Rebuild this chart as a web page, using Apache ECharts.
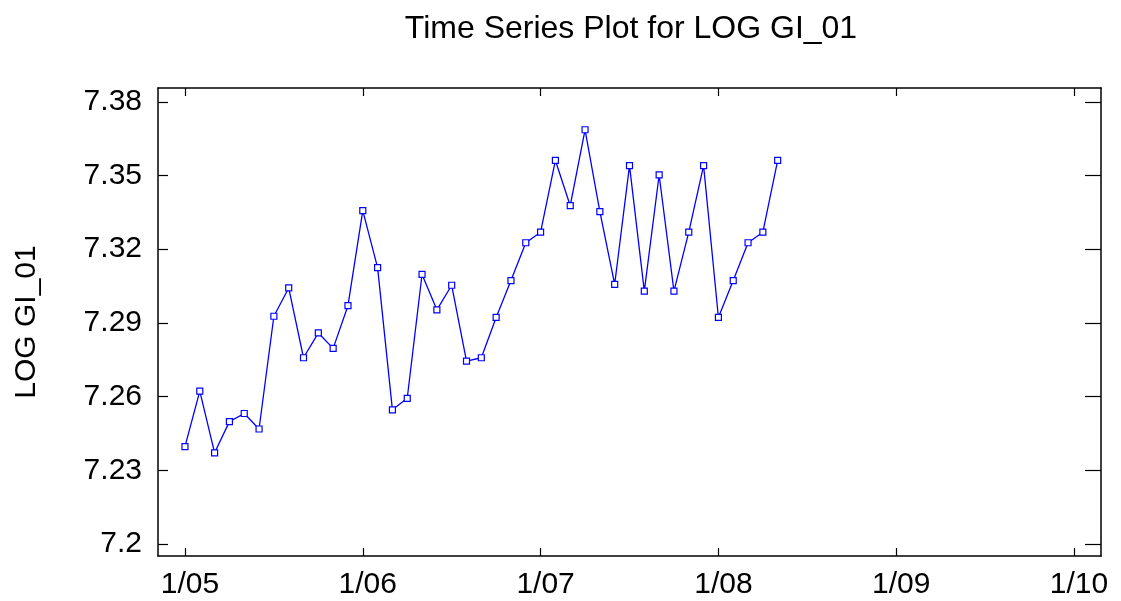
<!DOCTYPE html>
<html>
<head>
<meta charset="utf-8">
<script src="https://cdn.jsdelivr.net/npm/echarts@6/dist/echarts.min.js"></script>
<style>
html,body{margin:0;padding:0;background:#fff;}
#chart{width:1121px;height:601px;}
</style>
</head>
<body>
<div id="chart"></div>
<script>
const titleText = 'Time Series Plot for LOG GI_01';
const yAxisName = 'LOG GI_01';

const months = [
  '2005-01','2005-02','2005-03','2005-04','2005-05','2005-06','2005-07','2005-08','2005-09','2005-10','2005-11','2005-12',
  '2006-01','2006-02','2006-03','2006-04','2006-05','2006-06','2006-07','2006-08','2006-09','2006-10','2006-11','2006-12',
  '2007-01','2007-02','2007-03','2007-04','2007-05','2007-06','2007-07','2007-08','2007-09','2007-10','2007-11','2007-12',
  '2008-01','2008-02','2008-03','2008-04','2008-05'
];
const values = [
  7.2396, 7.2622, 7.2371, 7.2498, 7.2531, 7.2468, 7.2927, 7.3042, 7.2758, 7.2859, 7.2796, 7.2970,
  7.3357, 7.3125, 7.2546, 7.2593, 7.3097, 7.2953, 7.3053, 7.2744, 7.2758, 7.2922, 7.3072, 7.3226,
  7.3269, 7.3561, 7.3377, 7.3686, 7.3353, 7.3057, 7.3540, 7.3029, 7.3502, 7.3029, 7.3269, 7.3540,
  7.2922, 7.3072, 7.3226, 7.3269, 7.3561
];
const xTickMonths = [0, 12, 24, 36, 48, 60];
const xTickLabels = ['1/05', '1/06', '1/07', '1/08', '1/09', '1/10'];
const yTicks = [7.2, 7.23, 7.26, 7.29, 7.32, 7.35, 7.38];
const yTickLabels = ['7.2', '7.23', '7.26', '7.29', '7.32', '7.35', '7.38'];

function monthIndex(s) {
  const [y, m] = s.split('-').map(Number);
  return (y - 2005) * 12 + (m - 1);
}
const seriesData = months.map((m, i) => [monthIndex(m), values[i]]);

const chart = echarts.init(document.getElementById('chart'));
const lineStyle = { color: '#000', width: 1.5 };
const FONT = 'Liberation Sans';

const xBase = {
  type: 'value', min: -1.82, max: 61.82,
  splitLine: { show: false },
  axisLine: { show: true, onZero: false, lineStyle },
  axisTick: { show: true, inside: true, length: 8, customValues: xTickMonths, lineStyle: { color: '#000', width: 1.2 } }
};
const yBase = {
  type: 'value', min: 7.1951, max: 7.3856,
  splitLine: { show: false },
  axisLine: { show: true, onZero: false, lineStyle },
  axisTick: { show: true, inside: true, length: 10, customValues: yTicks, lineStyle: { color: '#000', width: 1.2 } }
};

chart.setOption({
  backgroundColor: '#fff',
  animation: false,
  title: {
    text: titleText, left: 626, top: 8, textAlign: 'center',
    textStyle: { fontFamily: FONT, fontWeight: 'normal', fontSize: 32, color: '#000' }
  },
  grid: { left: 158, right: 20, top: 88, bottom: 45, containLabel: false },
  xAxis: [
    Object.assign({}, xBase, {
      position: 'bottom',
      axisLabel: {
        show: true, customValues: xTickMonths, margin: 14,
        padding: [0, 0, 0, 10],
        formatter: v => xTickLabels[xTickMonths.indexOf(Math.round(v))] || '',
        fontFamily: FONT, fontSize: 30, color: '#000'
      }
    }),
    Object.assign({}, xBase, { position: 'top', axisLabel: { show: false } })
  ],
  yAxis: [
    Object.assign({}, yBase, {
      position: 'left',
      name: yAxisName, nameLocation: 'middle', nameRotate: 90, nameGap: 116,
      nameTextStyle: { fontFamily: FONT, fontSize: 30, color: '#000' },
      axisLabel: {
        show: true, customValues: yTicks, margin: 16,
        formatter: v => {
          const i = yTicks.findIndex(t => Math.abs(t - v) < 1e-6);
          return i >= 0 ? yTickLabels[i] : '';
        },
        fontFamily: FONT, fontSize: 30, color: '#000'
      }
    }),
    Object.assign({}, yBase, {
      position: 'right', axisLabel: { show: false },
      axisTick: Object.assign({}, yBase.axisTick, { length: 16 })
    })
  ],
  series: [{
    type: 'line',
    data: seriesData,
    xAxisIndex: 0, yAxisIndex: 0,
    symbol: 'rect', symbolSize: 6,
    itemStyle: { color: '#fff', borderColor: '#0000ff', borderWidth: 1.2 },
    lineStyle: { color: '#0000ff', width: 1.3 },
    emphasis: { disabled: true }
  }]
});
</script>
</body>
</html>
